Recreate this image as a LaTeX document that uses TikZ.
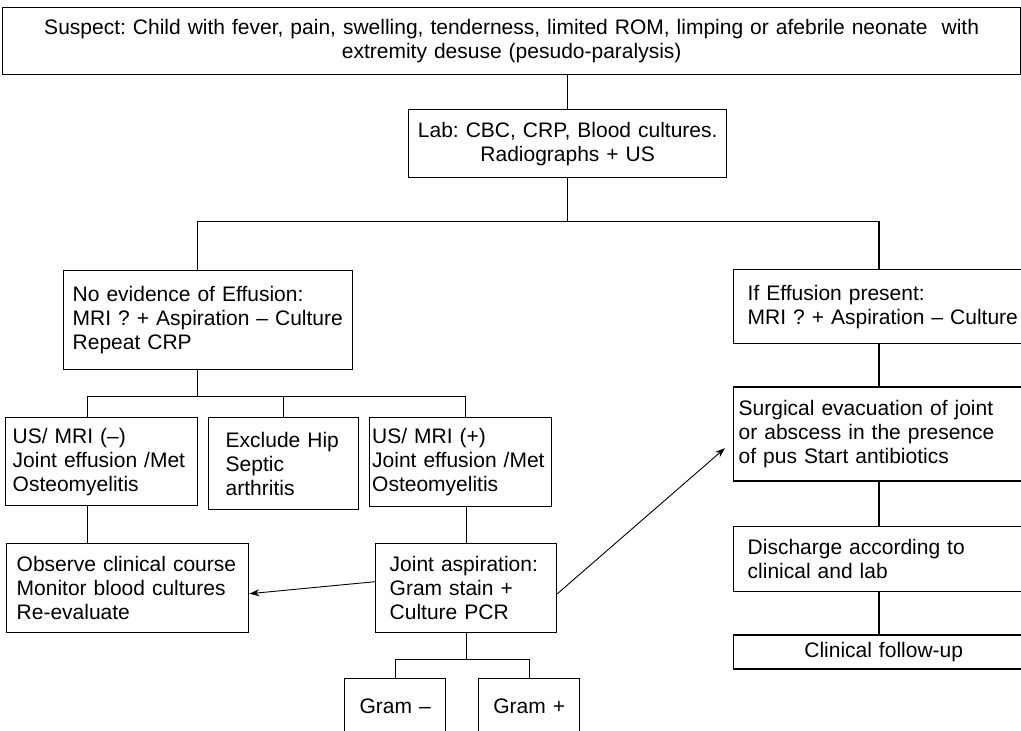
\documentclass[tikz,border=0pt]{standalone}
\usepackage{fontspec}
\setmainfont{Liberation Sans}
\usetikzlibrary{arrows.meta, positioning}
\frenchspacing

\begin{document}
\begin{tikzpicture}[
    x=1pt, y=-1pt,
    node distance=42pt,
    font=\fontsize{21}{24}\selectfont,
    flowbox/.style={
        rectangle,
        draw,
        line width=1.4pt,
        align=left,
        inner ysep=0pt
    },
    link/.style={line width=1.4pt},
    arrow/.style={-{Stealth[length=10pt, width=7pt]}, line width=0.9pt}
]

\useasboundingbox (0,0) rectangle (1021,731);

\node[flowbox, anchor=north west, align=center, text width=998pt, inner xsep=10pt, minimum height=67pt] (suspect) at (2,7) {
    Suspect: Child with fever, pain, swelling, tenderness, limited ROM, limping or afebrile neonate\ \ with\\
    extremity desuse (pesudo-paralysis)
};

\node[flowbox, anchor=north west, align=center, text width=308pt, inner xsep=5pt, minimum height=68pt] (lab) at (408,109) {
    Lab: CBC, CRP, Blood cultures.\\
    Radiographs + US
};

\node[flowbox, anchor=north west, text width=271pt, inner xsep=9pt, minimum height=99pt] (noeffusion) at (63,270) {
    No evidence of Effusion:\\
    MRI ? + Aspiration – Culture\\
    Repeat CRP
};

\node[flowbox, anchor=north west, text width=272pt, inner xsep=14pt, minimum height=74pt] (effusion) at (733,269) {
    If Effusion present:\\
    MRI ? + Aspiration – Culture
};

\node[flowbox, below=of effusion, text width=290pt, inner xsep=5pt, minimum height=94pt] (surgery) {
    Surgical evacuation of joint\\
    or abscess in the presence\\
    of pus Start antibiotics
};

\node[flowbox, below=44pt of surgery, text width=272pt, inner xsep=14pt, minimum height=65pt] (discharge) {
    Discharge according to\\
    clinical and lab
};

\node[flowbox, below=of discharge, align=center, text width=272pt, inner xsep=14pt, minimum height=34pt] (followup) {
    Clinical follow-up
};

\node[flowbox, anchor=north west, text width=178pt, inner xsep=7pt, minimum height=88pt] (usneg) at (5,417) {
    US/ MRI (–)\\
    Joint effusion /Met\\
    Osteomyelitis
};

\node[flowbox, anchor=north west, text width=116pt, inner xsep=17pt, minimum height=92pt] (excludehip) at (208,417) {
    Exclude Hip\\
    Septic\\
    arthritis
};

\node[flowbox, anchor=north west, text width=177pt, inner xsep=2.5pt, minimum height=89pt] (uspos) at (369,417) {
    US/ MRI (+)\\
    Joint effusion /Met\\
    Osteomyelitis
};

\node[flowbox, anchor=north west, text width=222pt, inner xsep=10pt, minimum height=89pt] (observe) at (6,543) {
    Observe clinical course\\
    Monitor blood cultures\\
    Re-evaluate
};

\node[flowbox, anchor=north west, text width=153pt, inner xsep=14pt, minimum height=89pt] (aspiration) at (375,543) {
    Joint aspiration:\\
    Gram stain +\\
    Culture PCR
};

\node[flowbox, anchor=north west, align=center, text width=91pt, inner xsep=5pt, minimum height=56pt] (gramneg) at (344,678) {Gram –};
\node[flowbox, anchor=north west, align=center, text width=91pt, inner xsep=5pt, minimum height=56pt] (grampos) at (478,678) {Gram +};

\coordinate (rcol) at (879,0);

\draw[link] (suspect.south -| lab.north) -- (lab.north);
\draw[link] (lab.south) -- ++(0,43) coordinate (split1);
\draw[link] ([xshift=-10.5pt]noeffusion.north) |- (split1) -| (effusion.north -| rcol);

\draw[link] ([xshift=-10.5pt]noeffusion.south) -- ++(0,26) coordinate (split2);
\draw[link] ([xshift=-14pt]usneg.north) |- (split2) -| ([xshift=5pt]uspos.north);
\draw[link] (excludehip.north) -- (excludehip.north |- split2);

\draw[link] ([xshift=-14pt]usneg.south) -- ([xshift=-14pt]usneg.south |- observe.north);
\draw[link] (aspiration.north |- uspos.south) -- (aspiration.north);

\draw[link] (aspiration.south) -- ++(0,26) coordinate (split3);
\draw[link] (gramneg.north) |- (split3) -| (grampos.north);

\draw[link] (effusion.south -| rcol) -- (surgery.north -| rcol);
\draw[link] (surgery.south -| rcol) -- (discharge.north -| rcol);
\draw[link] (discharge.south -| rcol) -- (followup.north -| rcol);

\draw[arrow] ([yshift=6.5pt]aspiration.west) -- ([yshift=-5.5pt]observe.east);
\draw[arrow] ([yshift=-5.5pt]aspiration.east) -- ([xshift=-8pt, yshift=-14pt]surgery.west);

\end{tikzpicture}
\end{document}
